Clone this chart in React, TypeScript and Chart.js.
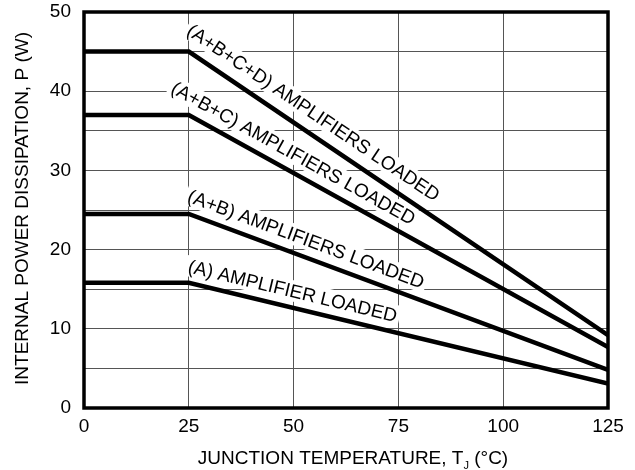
import React, { useEffect, useRef } from 'react';
import { Chart, registerables } from 'chart.js';

Chart.register(...registerables);

// ---- Data ----
const temperatures = [0, 25, 125];
const seriesABCD = [45, 45, 9.2];
const seriesABC = [37, 37, 7.7];
const seriesAB = [24.5, 24.5, 4.8];
const seriesA = [15.8, 15.8, 3.1];
const seriesLabels = [
  '(A+B+C+D) AMPLIFIERS LOADED',
  '(A+B+C) AMPLIFIERS LOADED',
  '(A+B) AMPLIFIERS LOADED',
  '(A) AMPLIFIER LOADED',
];
const xTickValues = [0, 25, 50, 75, 100, 125];
const yTickLabels = [0, 10, 20, 30, 40, 50];
const xTitleMain = 'JUNCTION TEMPERATURE, T';
const xTitleSub = 'J';
const xTitleTail = ' (°C)';
const yTitle = 'INTERNAL POWER DISSIPATION, P (W)';

// label placement (data x where each label starts along its sloped line, and gap above it in px)
const labelStarts = [22.5, 19.2, 23.5, 24];
const labelGaps = [13, 11, 11, 10];

const allSeries = [seriesABCD, seriesABC, seriesAB, seriesA];
const FONT = "'Liberation Sans', Arial, Helvetica, sans-serif";

function labelGeometry(chart: any, i: number) {
  const xs = chart.scales.x;
  const ys = chart.scales.y;
  const d = allSeries[i];
  const x1 = xs.getPixelForValue(temperatures[1]);
  const y1 = ys.getPixelForValue(d[1]);
  const x2 = xs.getPixelForValue(temperatures[2]);
  const y2 = ys.getPixelForValue(d[2]);
  const theta = Math.atan2(y2 - y1, x2 - x1);
  const lx = xs.getPixelForValue(labelStarts[i]);
  const ly = y1 + (lx - x1) * Math.tan(theta);
  return { lx, ly, theta };
}

const decorPlugin = {
  id: 'decor',
  beforeDatasetsDraw(chart: any) {
    const ctx = chart.ctx;
    ctx.save();
    ctx.font = `19px ${FONT}`;
    seriesLabels.forEach((txt, i) => {
      const { lx, ly, theta } = labelGeometry(chart, i);
      const w = ctx.measureText(txt).width;
      ctx.save();
      ctx.translate(lx, ly);
      ctx.rotate(theta);
      ctx.fillStyle = '#ffffff';
      ctx.fillRect(-3, -labelGaps[i] - 17, w + 6, 21);
      ctx.restore();
    });
    ctx.restore();
  },
  afterDatasetsDraw(chart: any) {
    const ctx = chart.ctx;
    const a = chart.chartArea;
    ctx.save();
    ctx.font = `19px ${FONT}`;
    ctx.fillStyle = '#000';
    ctx.textBaseline = 'alphabetic';
    ctx.textAlign = 'left';
    seriesLabels.forEach((txt, i) => {
      const { lx, ly, theta } = labelGeometry(chart, i);
      ctx.save();
      ctx.translate(lx, ly);
      ctx.rotate(theta);
      ctx.fillText(txt, 0, -labelGaps[i]);
      ctx.restore();
    });
    ctx.strokeStyle = '#000';
    ctx.lineWidth = 3.5;
    ctx.strokeRect(a.left, a.top, a.right - a.left, a.bottom - a.top);
    ctx.restore();
  },
  afterDraw(chart: any) {
    const ctx = chart.ctx;
    const a = chart.chartArea;
    ctx.save();
    ctx.fillStyle = '#000';
    ctx.textBaseline = 'alphabetic';
    const mainFont = `19px ${FONT}`;
    const subFont = `11px ${FONT}`;
    ctx.font = mainFont;
    const w1 = ctx.measureText(xTitleMain).width;
    const w3 = ctx.measureText(xTitleTail).width;
    ctx.font = subFont;
    const w2 = ctx.measureText(xTitleSub).width;
    const total = w1 + w2 + w3;
    const cx = (a.left + a.right) / 2 + 7;
    const base = a.bottom + 56;
    let x = cx - total / 2;
    ctx.textAlign = 'left';
    ctx.font = mainFont;
    ctx.fillText(xTitleMain, x, base);
    x += w1;
    ctx.font = subFont;
    ctx.fillText(xTitleSub, x, base + 5);
    x += w2;
    ctx.font = mainFont;
    ctx.fillText(xTitleTail, x, base);
    ctx.save();
    ctx.translate(28, (a.top + a.bottom) / 2 - 1.5);
    ctx.rotate(-Math.PI / 2);
    ctx.textAlign = 'center';
    ctx.font = mainFont;
    ctx.fillText(yTitle, 0, 0);
    ctx.restore();
    ctx.restore();
  },
};

export default function App() {
  const canvasRef = useRef<HTMLCanvasElement | null>(null);

  useEffect(() => {
    document.body.style.margin = '0';
    const canvas = canvasRef.current;
    if (!canvas) return;
    const datasets = allSeries.map((s, i) => ({
      label: seriesLabels[i],
      data: s.map((v, k) => ({ x: temperatures[k], y: v })),
      borderColor: '#000',
      borderWidth: 4.5,
      pointRadius: 0,
      fill: false,
      tension: 0,
    }));
    const chart = new Chart(canvas, {
      type: 'line',
      data: { datasets },
      options: {
        animation: false,
        responsive: true,
        maintainAspectRatio: false,
        layout: { padding: { left: 0, right: 27, top: 12, bottom: 0 } },
        plugins: {
          legend: { display: false },
          tooltip: { enabled: false },
        },
        scales: {
          x: {
            type: 'linear',
            min: 0,
            max: 125,
            afterBuildTicks: (scale: any) => {
              scale.ticks = xTickValues.map((v) => ({ value: v }));
            },
            afterFit: (scale: any) => {
              scale.height = 62;
              scale.paddingLeft = 0;
              scale.paddingRight = 0;
            },
            ticks: {
              color: '#000',
              font: { family: FONT, size: 19 },
              padding: 7,
              maxRotation: 0,
              autoSkip: false,
            },
            grid: { color: '#555', lineWidth: 1, drawTicks: false },
            border: { display: false },
          },
          y: {
            type: 'linear',
            min: 0,
            max: 50,
            ticks: {
              stepSize: 5,
              color: '#000',
              font: { family: FONT, size: 19 },
              padding: 13,
              autoSkip: false,
              callback: (v: any) => (yTickLabels.includes(Number(v)) ? String(v) : ''),
            },
            afterFit: (scale: any) => {
              scale.width = 84;
              scale.paddingTop = 0;
              scale.paddingBottom = 0;
            },
            grid: { color: '#555', lineWidth: 1, drawTicks: false },
            border: { display: false },
          },
        },
      },
      plugins: [decorPlugin],
    });
    return () => chart.destroy();
  }, []);

  return (
    <div style={{ position: 'relative', width: '635px', height: '470px' }}>
      <canvas ref={canvasRef} />
    </div>
  );
}
